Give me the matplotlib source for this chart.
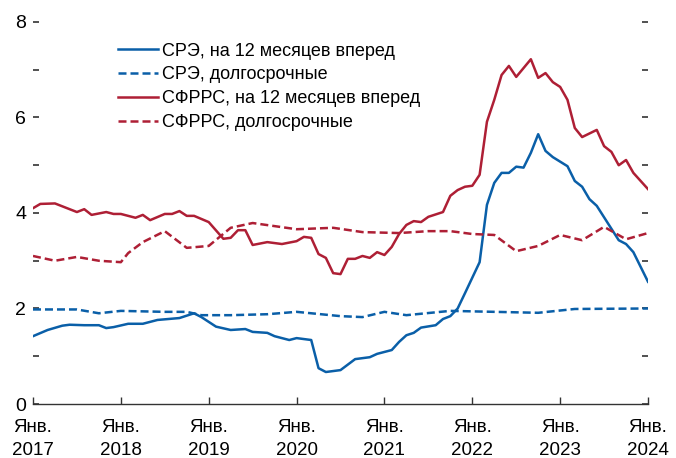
import matplotlib
matplotlib.use("Agg")
import matplotlib.pyplot as plt
from matplotlib.lines import Line2D

plt.rcParams['font.family'] = ['Liberation Sans', 'DejaVu Sans']

# Months counted from Jan 2017 (0) to Jan 2024 (84)
ecb_12m_m = [0, 2, 4, 5, 7, 9, 10, 11, 13, 15, 17, 20, 22, 23, 25, 27, 29, 30, 32, 33, 35, 36, 38, 39, 40, 42,
             44, 46, 47, 49, 50, 51, 52, 53, 55, 56, 57, 58, 59, 61, 62, 63, 64, 65, 66, 67, 68, 69, 70, 71,
             73, 74, 75, 76, 77, 80, 81, 82, 84]
ecb_12m_v = [1.42, 1.55, 1.64, 1.66, 1.65, 1.65, 1.59, 1.61, 1.68, 1.68, 1.76, 1.80, 1.90, 1.82, 1.62, 1.55,
             1.57, 1.51, 1.49, 1.42, 1.34, 1.38, 1.34, 0.75, 0.67, 0.71, 0.94, 0.98, 1.05, 1.13, 1.30, 1.44,
             1.49, 1.60, 1.65, 1.78, 1.84, 2.00, 2.32, 2.97, 4.17, 4.63, 4.84, 4.84, 4.97, 4.95, 5.26, 5.65,
             5.30, 5.17, 4.98, 4.67, 4.55, 4.29, 4.15, 3.43, 3.35, 3.18, 2.56]

ecb_lt_m = [0, 6, 9, 12, 18, 21, 23, 27, 32, 36, 42, 45, 48, 51, 57, 63, 69, 74, 84]
ecb_lt_v = [1.98, 1.98, 1.90, 1.95, 1.93, 1.93, 1.86, 1.86, 1.88, 1.93, 1.84, 1.82, 1.93, 1.86, 1.95, 1.93,
            1.91, 1.99, 2.00]

spf_12m_m = [0, 1, 3, 5, 6, 7, 8, 10, 11, 12, 14, 15, 16, 18, 19, 20, 21, 22, 24, 26, 27, 28, 29, 30, 32, 34,
             36, 37, 38, 39, 40, 41, 42, 43, 44, 45, 46, 47, 48, 49, 50, 51, 52, 53, 54, 56, 57, 58, 59, 60,
             61, 62, 63, 64, 65, 66, 68, 69, 70, 71, 72, 73, 74, 75, 77, 78, 79, 80, 81, 82, 83, 84]
spf_12m_v = [4.10, 4.19, 4.20, 4.08, 4.02, 4.08, 3.96, 4.02, 3.98, 3.98, 3.90, 3.96, 3.85, 3.98, 3.98, 4.04,
             3.94, 3.94, 3.81, 3.46, 3.48, 3.64, 3.64, 3.33, 3.39, 3.35, 3.41, 3.50, 3.48, 3.14, 3.06, 2.74,
             2.72, 3.04, 3.04, 3.10, 3.06, 3.18, 3.12, 3.29, 3.56, 3.75, 3.83, 3.81, 3.92, 4.02, 4.36, 4.48,
             4.55, 4.57, 4.80, 5.91, 6.37, 6.89, 7.08, 6.85, 7.22, 6.83, 6.93, 6.74, 6.64, 6.37, 5.78, 5.59,
             5.74, 5.40, 5.28, 5.00, 5.11, 4.84, 4.67, 4.50]

spf_lt_m = [0, 3, 6, 9, 12, 13, 15, 18, 21, 24, 27, 30, 36, 41, 45, 50, 54, 57, 60, 63, 66, 69, 72, 75, 78,
            81, 84]
spf_lt_v = [3.10, 3.00, 3.08, 3.00, 2.97, 3.16, 3.39, 3.62, 3.27, 3.31, 3.69, 3.79, 3.66, 3.69, 3.60, 3.58,
            3.62, 3.62, 3.56, 3.54, 3.20, 3.31, 3.54, 3.43, 3.71, 3.45, 3.58]

labels = ["СРЭ, на 12 месяцев вперед", "СРЭ, долгосрочные",
          "СФРРС, на 12 месяцев вперед", "СФРРС, долгосрочные"]
year_ticks = [0, 12, 24, 36, 48, 60, 72, 84]
year_labels = ["Янв.\n2017", "Янв.\n2018", "Янв.\n2019", "Янв.\n2020",
               "Янв.\n2021", "Янв.\n2022", "Янв.\n2023", "Янв.\n2024"]

BLUE = "#0a5fa8"
RED = "#ae1f35"

fig = plt.figure(figsize=(6.76, 4.58), dpi=100)
ax = fig.add_axes([0.0488, 0.1179, 0.9098, 0.8341])

lw = 1.8
dash = (3.2, 1.6)
ax.plot(ecb_12m_m, ecb_12m_v, color=BLUE, lw=lw, solid_joinstyle='round')
ax.plot(ecb_lt_m, ecb_lt_v, color=BLUE, lw=lw, dashes=dash)
ax.plot(spf_12m_m, spf_12m_v, color=RED, lw=lw, solid_joinstyle='round')
ax.plot(spf_lt_m, spf_lt_v, color=RED, lw=lw, dashes=dash)

ax.set_xlim(0, 84)
ax.set_ylim(0, 8)

for s in ['left', 'right', 'top']:
    ax.spines[s].set_visible(False)
ax.spines['bottom'].set_color('#333333')
ax.spines['bottom'].set_linewidth(1.0)

ax.set_xticks(year_ticks)
ax.set_xticklabels(year_labels, fontsize=13.5, linespacing=1.45)
ax.tick_params(axis='x', direction='in', length=5, width=1.0, color='#333333', pad=11)

ax.set_yticks(range(0, 9))
ax.set_yticklabels(["0", "", "2", "", "4", "", "6", "", "8"], fontsize=14)
ax.tick_params(axis='y', direction='in', length=4, width=1.2, color='#333333', pad=5,
               left=True, right=True, labelleft=True, labelright=False)

handles = [Line2D([], [], color=BLUE, lw=lw),
           Line2D([], [], color=BLUE, lw=lw, dashes=dash),
           Line2D([], [], color=RED, lw=lw),
           Line2D([], [], color=RED, lw=lw, dashes=dash)]
ax.legend(handles, labels, loc='upper left', bbox_to_anchor=(0.138, 0.946), frameon=False,
          fontsize=13, handlelength=2.2, handletextpad=0.25, labelspacing=0.38, borderaxespad=0,
          borderpad=0)

fig.savefig("out.png", dpi=100)
